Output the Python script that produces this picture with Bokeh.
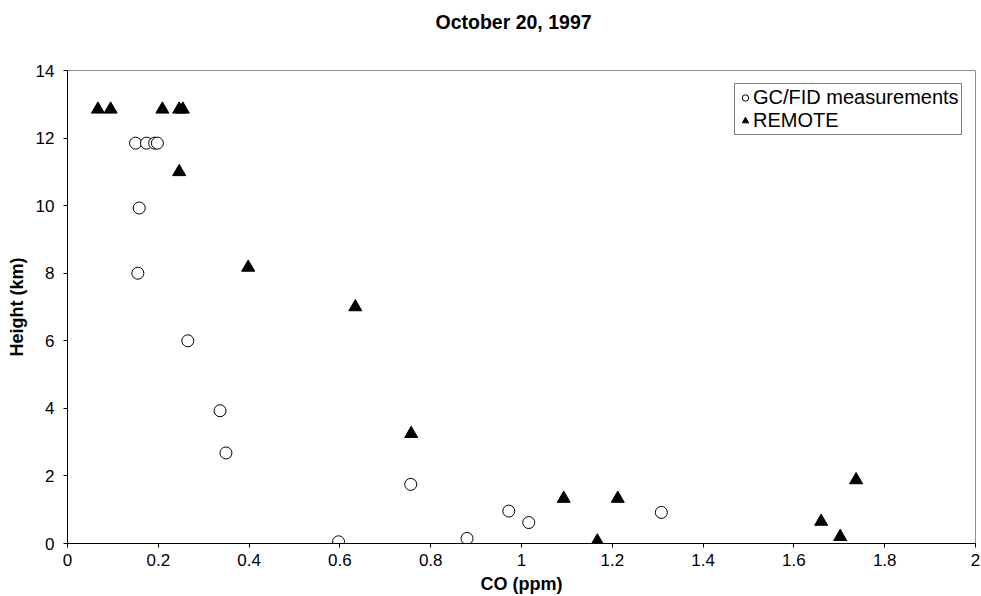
from bokeh.plotting import figure
from bokeh.models import (Range1d, Legend, LegendItem, ColumnDataSource, FixedTicker, Title)
from bokeh.embed import file_html
from bokeh.resources import INLINE

# GC/FID measurements
gc_co = [0.150, 0.174, 0.192, 0.198, 0.158, 0.155, 0.265, 0.336, 0.349, 0.756, 0.597, 0.880, 0.972, 1.016, 1.308]
gc_h = [11.85, 11.85, 11.85, 11.85, 9.93, 8.0, 6.0, 3.93, 2.68, 1.75, 0.05, 0.15, 0.96, 0.62, 0.92]

# REMOTE
rm_co = [0.067, 0.095, 0.209, 0.246, 0.254, 0.246, 0.398, 0.634, 0.757, 1.093, 1.212, 1.167, 1.660, 1.702, 1.737]
rm_h = [12.85, 12.85, 12.85, 12.85, 12.85, 11.0, 8.17, 7.0, 3.25, 1.33, 1.33, 0.07, 0.65, 0.2, 1.88]

x_ticks = [0, 0.2, 0.4, 0.6, 0.8, 1.0, 1.2, 1.4, 1.6, 1.8, 2.0]
x_tick_labels = ["0", "0.2", "0.4", "0.6", "0.8", "1", "1.2", "1.4", "1.6", "1.8", "2"]
y_ticks = [0, 2, 4, 6, 8, 10, 12, 14]

title_text = "October 20, 1997"
x_label = "CO (ppm)"
y_label = "Height (km)"
series_names = ["GC/FID measurements", "REMOTE"]

FONT = "Liberation Sans"

p = figure(width=981, height=596, output_backend="svg", toolbar_location=None,
           x_range=Range1d(0, 2), y_range=Range1d(0, 14),
           min_border_left=67, min_border_right=6, min_border_top=70, min_border_bottom=52)
p.background_fill_color = "white"
p.border_fill_color = "white"
p.outline_line_color = "#909090"
p.outline_line_width = 1
p.xgrid.visible = False
p.ygrid.visible = False

# spacer (closest to the frame), then the real title further out
p.add_layout(Title(text=" ", standoff=15, text_font=FONT, text_font_size="19px"), "above")
p.add_layout(Title(text=title_text, align="left", offset=368, standoff=0, text_font=FONT,
                   text_font_style="bold", text_font_size="19.5px", text_color="black"), "above")

for ax in (p.xaxis[0], p.yaxis[0]):
    ax.axis_line_color = "black"
    ax.major_tick_line_color = "black"
    ax.minor_tick_line_color = None
    ax.major_tick_in = 0
    ax.major_tick_out = 4
    ax.major_label_text_font = FONT
    ax.major_label_text_font_size = "17px"
    ax.major_label_text_color = "black"
    ax.axis_label_text_font = FONT
    ax.axis_label_text_font_style = "bold"
    ax.axis_label_text_font_size = "18px"
    ax.axis_label_text_color = "black"

p.xaxis.ticker = FixedTicker(ticks=x_ticks)
p.xaxis.major_label_overrides = {t: l for t, l in zip(x_ticks, x_tick_labels)}
p.yaxis.ticker = FixedTicker(ticks=y_ticks)
p.xaxis.axis_label = x_label
p.yaxis.axis_label = y_label
p.xaxis.axis_label_standoff = 5
p.yaxis.axis_label_standoff = 6
p.xaxis.major_label_standoff = 6
p.yaxis.major_label_standoff = 9

gc_src = ColumnDataSource(dict(x=gc_co, y=gc_h))
rm_src = ColumnDataSource(dict(x=rm_co, y=rm_h))

r_gc = p.scatter("x", "y", source=gc_src, marker="circle", size=12,
                 fill_color="white", line_color="black", line_width=1)
r_rm = p.scatter("x", "y", source=rm_src, marker="triangle", size=13,
                 fill_color="black", line_color="black", line_width=1)

legend = Legend(items=[LegendItem(label=series_names[0], renderers=[r_gc]),
                       LegendItem(label=series_names[1], renderers=[r_rm])],
                location=(667, 408))
legend.label_text_font = FONT
legend.label_text_font_size = "20px"
legend.label_text_color = "black"
legend.label_standoff = 0
legend.label_height = 20
legend.glyph_width = 16
legend.glyph_height = 19
legend.spacing = 0
legend.padding = 2
legend.margin = 0
legend.border_line_color = "black"
legend.border_line_width = 1
legend.background_fill_color = "white"
legend.background_fill_alpha = 1
p.add_layout(legend)

open("out.html", "w").write(file_html(p, INLINE))
